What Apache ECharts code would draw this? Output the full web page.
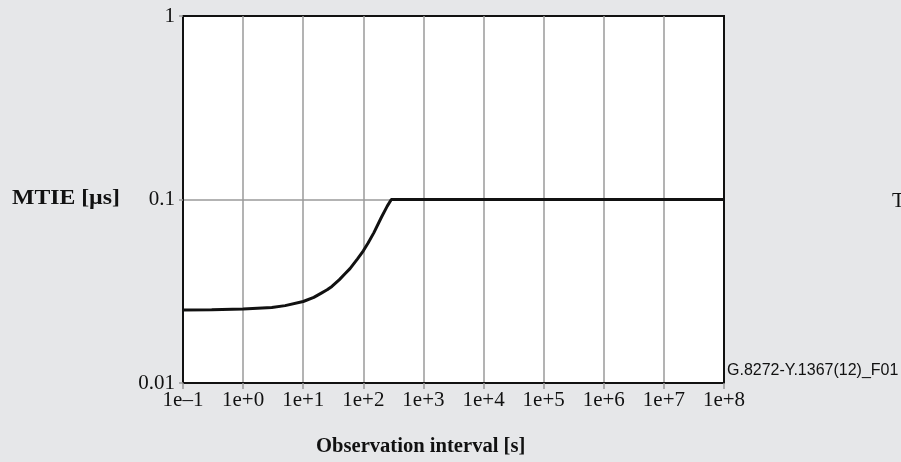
<!DOCTYPE html>
<html><head><meta charset="utf-8">
<script src="https://cdn.jsdelivr.net/npm/echarts@6/dist/echarts.min.js"></script>
<style>html,body{margin:0;padding:0;background:#e6e7e9;}#c{width:901px;height:462px;}</style>
</head><body><div id="c"></div>
<script>
// Observation interval tau [s] and MTIE [µs]
var tau  = [0.1, 0.3, 1, 3, 5, 10, 15, 20, 25, 30, 40, 50, 60, 80, 100, 120, 150, 200, 250, 292, 1e8];
var mtie = [0.025, 0.0251, 0.0253, 0.0258, 0.0264, 0.0278, 0.0293, 0.0309, 0.0322, 0.0336, 0.0366, 0.0395, 0.042, 0.0475, 0.0525, 0.058, 0.066, 0.080, 0.092, 0.1, 0.1];
var xTickLabels = ['1e\u20131','1e+0','1e+1','1e+2','1e+3','1e+4','1e+5','1e+6','1e+7','1e+8'];
var yTickLabels = ['0.01','0.1','1'];
var xTitle = 'Observation interval [s]';
var yTitle = 'MTIE [\u00b5s]';
var figId = 'G.8272-Y.1367(12)_F01';

var serif = '"Liberation Serif", "DejaVu Serif", serif';
var data = tau.map(function(t,i){return [t, mtie[i]];});
var chart = echarts.init(document.getElementById('c'));
chart.setOption({
  backgroundColor: '#e6e7e9',
  animation: false,
  grid: {left: 183, right: 177, top: 16, bottom: 79, show: true, backgroundColor: '#ffffff', borderColor: '#111', borderWidth: 2},
  xAxis: {
    type: 'log', logBase: 10, min: 0.1, max: 1e8, splitNumber: 9,
    axisLine: {show: true, lineStyle: {color: '#111', width: 2}},
    axisTick: {show: true, length: 6, lineStyle: {color: '#999', width: 1.5}},
    axisLabel: {color: '#111', fontFamily: serif, fontSize: 21, margin: 7,
      formatter: function(v){ return xTickLabels[Math.round(Math.log10(v)) + 1]; }},
    splitLine: {show: true, showMinLine: false, showMaxLine: false, lineStyle: {color: '#9a9a9a', width: 1.5}},
    minorTick: {show: false}
  },
  yAxis: {
    type: 'log', logBase: 10, min: 0.01, max: 1, splitNumber: 2,
    axisLine: {show: true, lineStyle: {color: '#111', width: 2}},
    axisTick: {show: true, length: 4, lineStyle: {color: '#999', width: 1.5}},
    axisLabel: {color: '#111', fontFamily: serif, fontSize: 21, margin: 8,
      formatter: function(v){ return yTickLabels[Math.round(Math.log10(v)) + 2]; }},
    splitLine: {show: true, showMinLine: false, showMaxLine: false, lineStyle: {color: '#9a9a9a', width: 1.5}}
  },
  series: [{
    type: 'line', data: data, showSymbol: false, symbol: 'none', smooth: false,
    lineStyle: {color: '#111', width: 3}, z: 5
  }],
  graphic: [
    {type: 'text', x: 12, y: 188, scaleX: 1.13, style: {text: yTitle, font: 'bold 21px ' + serif, fill: '#111'}},
    {type: 'text', left: 316, top: 436, style: {text: xTitle, font: 'bold 20.6px ' + serif, fill: '#111'}},
    {type: 'text', left: 727, top: 363, style: {text: figId, font: '16px "Liberation Sans", Arial, sans-serif', fill: '#111'}},
    {type: 'text', left: 892, top: 191, style: {text: 'T', font: '21px ' + serif, fill: '#111'}}
  ]
});
</script>
</body></html>
